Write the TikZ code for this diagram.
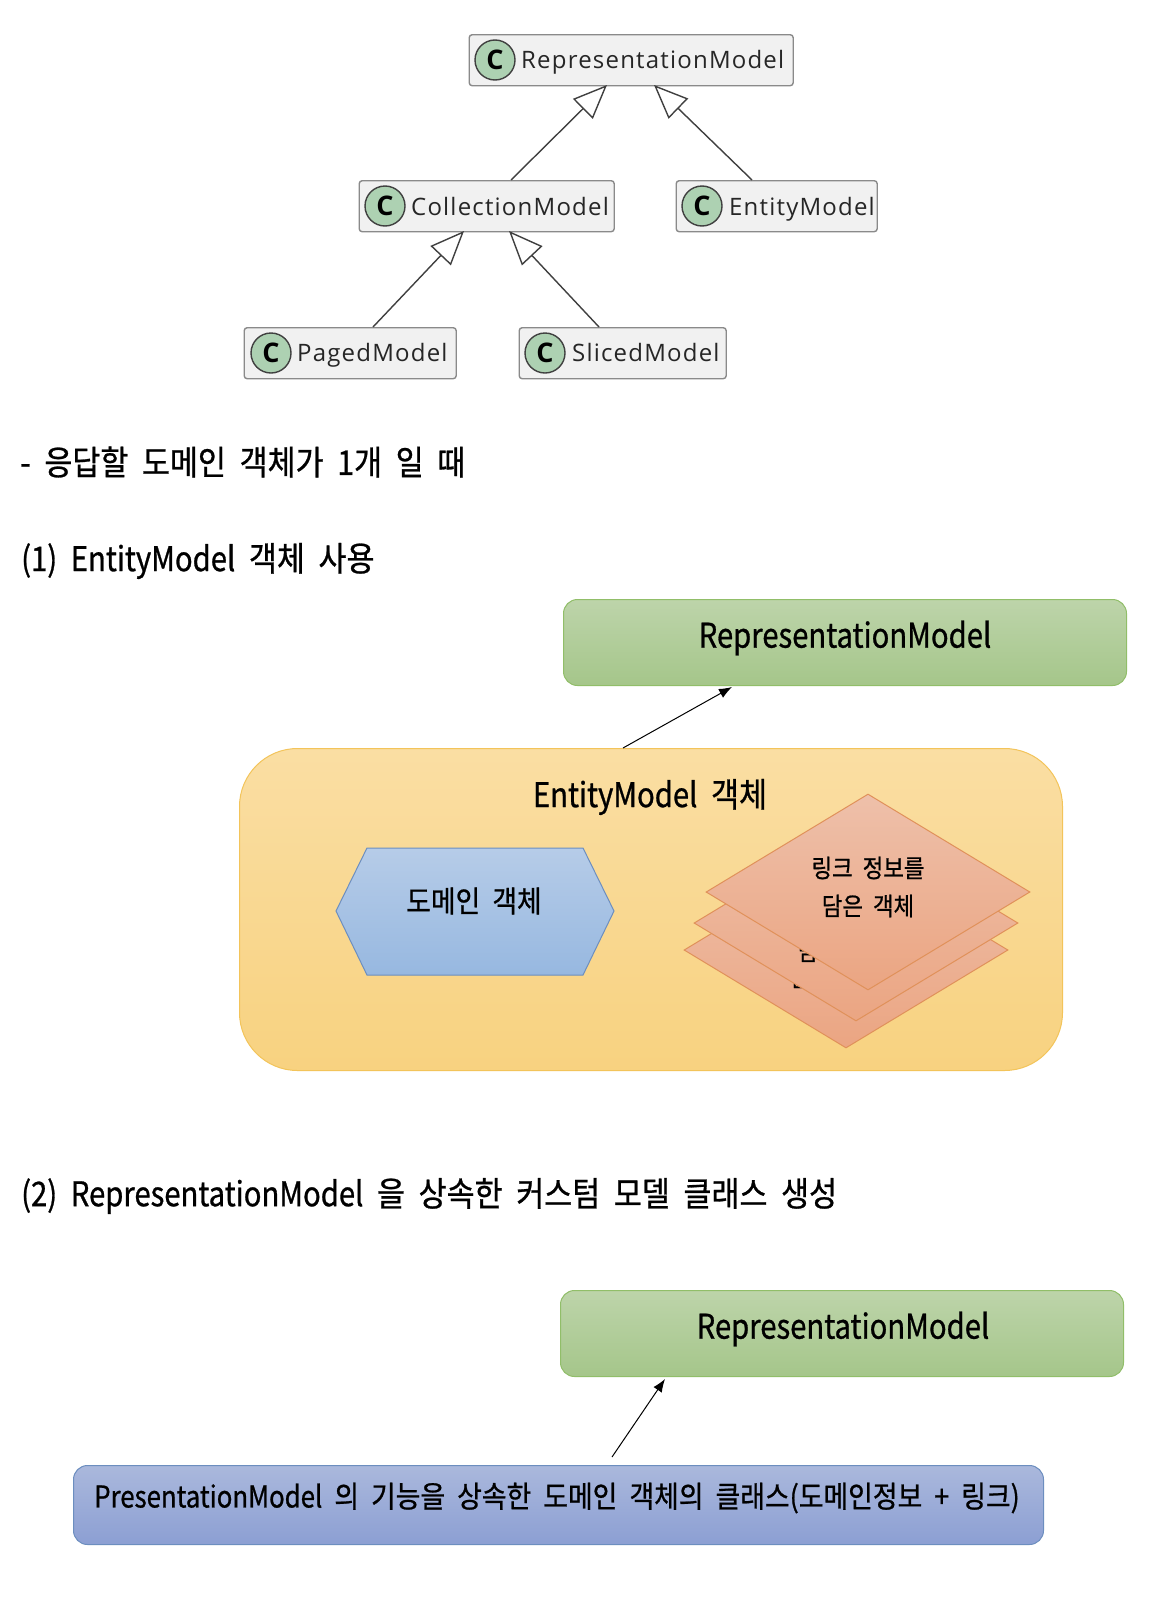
\documentclass[tikz,border=0pt]{standalone}
\usepackage{fontspec}
\usetikzlibrary{arrows.meta,shapes.geometric}
\setmainfont{Noto Sans CJK KR}[FakeStretch=0.895,WordSpace=2,FakeBold=0.8]
\newfontfamily\latf{Noto Sans CJK KR}[FakeStretch=0.86,FakeBold=0.8]
\newcommand{\lt}[1]{{\latf #1}}
\newfontfamily\umlfont{Open Sans}[LetterSpace=5]
\newcommand{\fs}[1]{\fontsize{#1}{#1}\selectfont}
\definecolor{umlfill}{HTML}{F1F1F1}
\definecolor{umlline}{HTML}{8A8A8A}
\definecolor{cfill}{HTML}{ADD1B2}
\tikzset{
  umlbox/.style={draw=umlline,fill=umlfill,line width=1.4pt,rounded corners=3pt,minimum height=51pt,inner sep=0pt,anchor=north west},
  cmark/.style={circle,draw=black!75,fill=cfill,line width=1.4pt,minimum size=40pt,inner sep=0pt,font=\umlfont\fs{27}\bfseries},
  umllab/.style={font=\umlfont\fs{24},inner sep=0pt,anchor=base west,text=black!85},
  inherit/.style={draw=black!75,line width=1.4pt,-{Triangle[open,fill=white,length=34pt,width=28pt]}},
  greenbox/.style={draw={rgb,255:red,145;green,190;blue,105},top color={rgb,255:red,189;green,212;blue,170},bottom color={rgb,255:red,165;green,198;blue,138},line width=1pt,rounded corners=14pt,inner sep=0pt,anchor=north west,minimum width=563pt,minimum height=86pt},
  dia/.style={diamond,draw={rgb,255:red,224;green,145;blue,90},top color={rgb,255:red,238;green,192;blue,170},bottom color={rgb,255:red,235;green,165;blue,130},line width=1pt,minimum width=324pt,minimum height=196pt,inner sep=0pt,aspect=1.65},
  head/.style={font=\fs{34},inner sep=0pt,anchor=west},
  thin arrow/.style={draw=black,line width=1pt,-{Latex[length=13pt,width=10pt]}},
}
\begin{document}
\begin{tikzpicture}[x=1pt,y=-1pt]
\useasboundingbox (0,0) rectangle (1168,1598);
\fill[white] (0,0) rectangle (1168,1598);
% UML boxes
\node[umlbox,minimum width=324pt] (rm) at (468.5,34) {};
\node[umlbox,minimum width=255pt] (cm) at (358.5,180) {};
\node[umlbox,minimum width=201pt] (em) at (675.5,180) {};
\node[umlbox,minimum width=212pt] (pm) at (243.5,327) {};
\node[umlbox,minimum width=207pt] (sm) at (518.5,327) {};
\node[cmark] (c1) at (495,60) {C};
\node[cmark] (c2) at (385,206) {C};
\node[cmark] (c3) at (702,206) {C};
\node[cmark] (c4) at (271,353) {C};
\node[cmark] (c5) at (545,353) {C};
\node[umllab] (t1) at (521,68) {RepresentationModel};
\node[umllab] (t2) at (411,215) {CollectionModel};
\node[umllab] (t3) at (729,215) {EntityModel};
\node[umllab] (t4) at (297,361) {PagedModel};
\node[umllab] (t5) at (572,361) {SlicedModel};
\coordinate (a1) at (511,180); \coordinate (a1e) at (607,85);
\coordinate (a2) at (752,180); \coordinate (a2e) at (654,85);
\coordinate (a3) at (373,327); \coordinate (a3e) at (464,231);
\coordinate (a4) at (599,327); \coordinate (a4e) at (509,231);
\draw[inherit] (a1) -- (a1e);
\draw[inherit] (a2) -- (a2e);
\draw[inherit] (a3) -- (a3e);
\draw[inherit] (a4) -- (a4e);
% headings
\node[head] (h1) at (20,462) {- 응답할 도메인 객체가 1개 일 때};
\node[head] (h2) at (21,561) {\lt{(1)} \lt{EntityModel} 객체 사용};
\node[head] (h3) at (21,1196) {\lt{(2)} \lt{RepresentationModel} 을 상속한 커스텀 모델 클래스 생성};
% section 1
\node[greenbox] (g1) at (563,599) {};
\node[font=\fs{34},inner sep=0pt] (g1t) at (845,638) {\lt{RepresentationModel}};
\node[draw={rgb,255:red,243;green,196;blue,90},top color={rgb,255:red,250;green,222;blue,163},bottom color={rgb,255:red,248;green,210;blue,128},line width=1pt,rounded corners=58pt,minimum width=823pt,minimum height=322pt,inner sep=0pt,anchor=north west] (orange) at (239,748) {};
\node[font=\fs{34},inner sep=0pt] (ot) at (650,797) {\lt{EntityModel} 객체};
\coordinate (b1) at (623,748); \coordinate (b1e) at (732,687);
\draw[thin arrow] (b1) -- (b1e);
\path[draw={rgb,255:red,108;green,142;blue,191},top color={rgb,255:red,182;green,204;blue,232},bottom color={rgb,255:red,151;green,184;blue,224},line width=1pt] (336,911) -- (367,848) -- (583,848) -- (614,911) -- (583,975) -- (367,975) -- cycle;
\node[font=\fs{30},inner sep=0pt] (hex) at (474,901) {도메인 객체};
\node[dia] (d3) at (846,950) {};
\node[font=\fs{25},inner sep=0pt,align=center] (d3t) at (836,958) {링크 정보를\\[13pt]담은 객체};
\node[dia] (d2) at (856,923) {};
\node[font=\fs{25},inner sep=0pt,align=center] (d2t) at (844,932) {링크 정보를\\[13pt]담은 객체};
\node[dia] (d1) at (868,892) {};
\node[font=\fs{25},inner sep=0pt,align=center] (d1l) at (868,887) {링크 정보를\\[13pt]담은 객체};
% section 2
\node[greenbox] (g2) at (560,1290) {};
\node[font=\fs{34},inner sep=0pt] (g2t) at (843,1329) {\lt{RepresentationModel}};
\node[draw={rgb,255:red,108;green,142;blue,191},top color={rgb,255:red,170;green,184;blue,220},bottom color={rgb,255:red,140;green,159;blue,211},line width=1pt,rounded corners=14pt,minimum width=970pt,minimum height=79pt,inner sep=0pt,anchor=north west] (blue) at (73,1465) {};
\node[font=\fs{30},inner sep=0pt] (bt) at (557,1498) {\lt{PresentationModel} 의 기능을 상속한 도메인 객체의 클래스(도메인정보 + 링크)};
\coordinate (b2) at (612,1457); \coordinate (b2e) at (665,1379);
\draw[thin arrow] (b2) -- (b2e);
\end{tikzpicture}
\end{document}
